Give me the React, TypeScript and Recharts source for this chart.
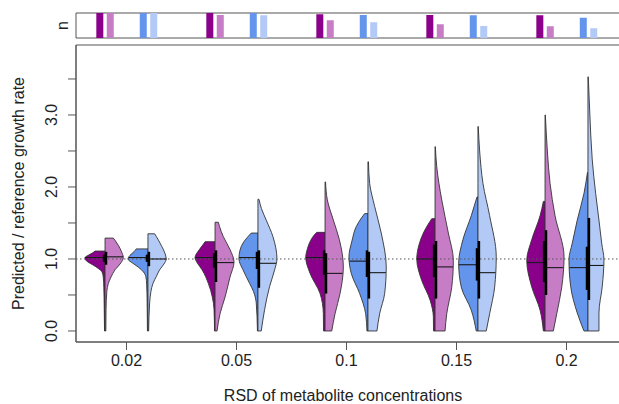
import React from 'react';
import {
  ComposedChart,
  BarChart,
  Bar,
  Cell,
  Area,
  XAxis,
  YAxis,
  ReferenceLine,
  ReferenceArea,
} from 'recharts';

// ---------- data ----------
const rsdLabels = ['0.02', '0.05', '0.1', '0.15', '0.2'];
const groupPositions = [1, 2, 3, 4, 5];

// counts shown in the top "n" panel (relative)
const nDarkPurple = [100, 100, 95, 92, 91];
const nLightPurple = [100, 92, 71, 55, 47];
const nBlue = [100, 100, 92, 91, 81];
const nLightBlue = [100, 91, 63, 48, 39];

// violin outlines: [value, density]
const darkPurpleOutlines = [
  [[0, 0.5], [0.3, 0.8], [0.6, 1.2], [0.75, 1.8], [0.82, 3], [0.86, 6], [0.9, 10], [0.94, 15], [0.98, 19], [1.02, 20], [1.05, 17], [1.08, 13], [1.11, 10]],
  [[0, 0.5], [0.3, 1], [0.47, 2.7], [0.66, 6.7], [0.85, 13], [0.95, 18], [1.02, 20], [1.13, 15.7], [1.2, 12], [1.24, 10]],
  [[0, 1.5], [0.24, 1.7], [0.52, 5], [0.8, 15], [1.02, 19.3], [1.15, 17.5], [1.26, 14.3], [1.33, 11], [1.37, 8.3]],
  [[0, 1.5], [0.2, 1.7], [0.43, 5], [0.7, 13.3], [1.0, 18.3], [1.2, 16], [1.36, 11.7], [1.48, 7], [1.56, 3.3]],
  [[0, 1.7], [0.29, 5], [0.61, 13.3], [0.98, 18.3], [1.27, 13.3], [1.6, 5], [1.8, 1.7]],
];
const lightPurpleOutlines = [
  [[0, 0.8], [0.3, 1], [0.55, 1.8], [0.66, 3.3], [0.75, 6], [0.85, 10], [0.93, 15], [1.02, 18.3], [1.1, 16.5], [1.19, 13.3], [1.25, 10.5], [1.29, 8.3]],
  [[0, 2], [0.24, 5], [0.47, 10], [0.75, 15], [0.96, 19], [1.13, 15], [1.31, 8.3], [1.45, 4.5], [1.51, 3.3]],
  [[0, 6.7], [0.24, 10], [0.52, 15], [0.89, 18.3], [1.27, 14.3], [1.54, 8.3], [1.82, 2.3], [2.07, 0.5]],
  [[0, 10], [0.24, 11.7], [0.61, 16.7], [0.98, 18.3], [1.36, 13.3], [1.82, 6.7], [2.28, 1.7], [2.56, 0.3]],
  [[0, 8.3], [0.24, 11.7], [0.61, 16.7], [1.03, 19], [1.6, 10], [2.05, 5], [2.5, 2.3], [3.0, 0.3]],
];
const blueOutlines = [
  [[0, 0.5], [0.4, 0.8], [0.65, 1.3], [0.75, 2], [0.82, 4.5], [0.88, 9], [0.94, 15], [1.0, 20], [1.05, 18], [1.1, 14], [1.14, 11.7]],
  [[0, 0.5], [0.39, 1.7], [0.55, 4.5], [0.66, 8.3], [0.85, 15], [1.0, 19], [1.12, 18], [1.22, 15], [1.31, 10], [1.36, 6.7]],
  [[0, 1], [0.24, 2.3], [0.52, 8.3], [0.8, 16.7], [1.03, 19], [1.25, 16], [1.45, 11.7], [1.57, 6.5], [1.63, 3.3]],
  [[0, 1.7], [0.29, 6.7], [0.61, 16.7], [0.94, 19.3], [1.27, 15], [1.6, 6.7], [1.86, 1]],
  [[0, 4], [0.25, 10.7], [0.62, 17.3], [0.99, 19], [1.22, 15.7], [1.54, 10.7], [1.91, 4], [2.2, 0.5]],
];
const lightBlueOutlines = [
  [[0, 0.7], [0.39, 1.7], [0.55, 3], [0.66, 5], [0.76, 8.5], [0.85, 11.7], [0.93, 16], [1.0, 18.3], [1.08, 17], [1.17, 14], [1.25, 11], [1.31, 8.5], [1.35, 6.7]],
  [[0, 3.3], [0.3, 6.7], [0.62, 11.7], [0.85, 16.7], [1.0, 19], [1.31, 15], [1.54, 8.3], [1.7, 3.5], [1.83, 1]],
  [[0, 9], [0.24, 11.7], [0.52, 16.7], [0.89, 18.3], [1.36, 13.3], [1.73, 6.7], [2.05, 1.7], [2.35, 0.5]],
  [[0, 8.3], [0.24, 11.7], [0.61, 16.7], [1.03, 18.3], [1.6, 11.7], [2.05, 5], [2.5, 1.7], [2.84, 0.3]],
  [[0, 11], [0.25, 11], [0.62, 14.3], [0.99, 16], [1.22, 13.7], [1.54, 11], [1.91, 7.7], [2.375, 4.3], [3.07, 1.7], [3.53, 0.3]],
];

const darkPurpleMedians = [1.02, 1.02, 1.02, 1.0, 0.95];
const lightPurpleMedians = [1.03, 0.95, 0.8, 0.89, 0.88];
const blueMedians = [1.02, 1.02, 0.97, 0.92, 0.88];
const lightBlueMedians = [1.0, 0.94, 0.81, 0.81, 0.91];

// [q1, q3]
const darkPurpleBoxes = [[0.96, 1.06], [0.88, 1.08], [0.78, 1.12], [0.75, 1.2], [0.68, 1.25]];
const lightPurpleBoxes = [[0.92, 1.1], [0.68, 1.12], [0.52, 1.08], [0.45, 1.25], [0.5, 1.4]];
const blueBoxes = [[0.96, 1.06], [0.86, 1.1], [0.75, 1.12], [0.7, 1.15], [0.57, 1.17]];
const lightBlueBoxes = [[0.9, 1.1], [0.6, 1.12], [0.45, 1.1], [0.45, 1.25], [0.43, 1.57]];

const yTicks = [0, 0.5, 1, 1.5, 2, 2.5, 3, 3.5];

// ---------- styles / layout ----------
const FONT = '"Liberation Sans", Arial, Helvetica, sans-serif';
const X_DOMAIN: [number, number] = [0.541, 5.759];
const Y_DOMAIN: [number, number] = [-0.153, 3.972];
const PAIR_OFFSET = 0.195;
const DENS = 1 / 110;
const BOX_OFF = 1.0 / 110;
const OUTLINE = '#333333';

const series = [
  { key: 'dp', color: '#8B008B', pair: -1, side: -1, outlines: darkPurpleOutlines, medians: darkPurpleMedians, boxes: darkPurpleBoxes, n: nDarkPurple, barOff: -0.245 },
  { key: 'lp', color: '#C67DC6', pair: -1, side: 1, outlines: lightPurpleOutlines, medians: lightPurpleMedians, boxes: lightPurpleBoxes, n: nLightPurple, barOff: -0.15 },
  { key: 'bl', color: '#6495ED', pair: 1, side: -1, outlines: blueOutlines, medians: blueMedians, boxes: blueBoxes, n: nBlue, barOff: 0.15 },
  { key: 'lb', color: '#B2CAF5', pair: 1, side: 1, outlines: lightBlueOutlines, medians: lightBlueMedians, boxes: lightBlueBoxes, n: nLightBlue, barOff: 0.245 },
];

const widthAt = (outline: number[][], v: number) => {
  for (let i = 0; i < outline.length - 1; i++) {
    const [v0, d0] = outline[i];
    const [v1, d1] = outline[i + 1];
    if (v >= v0 && v <= v1) return d0 + ((d1 - d0) * (v - v0)) / (v1 - v0);
  }
  return 0;
};

const nRows = groupPositions.flatMap((p, g) =>
  series.map((s) => ({ x: p + s.barOff, n: s.n[g], color: s.color }))
);

const YTick = (props: any) => {
  const { x, y, payload } = props;
  const v = payload.value;
  if (Math.abs(v - Math.round(v)) > 1e-6) return <g />;
  const tx = x - 9;
  return (
    <text x={tx} y={y} transform={`rotate(-90 ${tx} ${y})`} textAnchor="middle" fontSize={16} fill="#222" fontFamily={FONT}>
      {v.toFixed(1)}
    </text>
  );
};

const YTitle = (props: any) => {
  const vb = props.viewBox;
  const cx = 24;
  const cy = vb.y + vb.height / 2;
  return (
    <text x={cx} y={cy} transform={`rotate(-90 ${cx} ${cy})`} textAnchor="middle" fontSize={16} fill="#222" fontFamily={FONT}>
      Predicted / reference growth rate
    </text>
  );
};

const NTitle = (props: any) => {
  const vb = props.viewBox;
  const cx = 68;
  const cy = vb.y + vb.height / 2;
  return (
    <text x={cx} y={cy} transform={`rotate(-90 ${cx} ${cy})`} textAnchor="middle" fontSize={16} fill="#222" fontFamily={FONT}>
      n
    </text>
  );
};

const XTitle = () => (
  <text x={343} y={401} textAnchor="middle" fontSize={16} fill="#222" fontFamily={FONT}>
    RSD of metabolite concentrations
  </text>
);

export default function App() {
  const areas: any[] = [];
  const lines: any[] = [];
  series.forEach((s) => {
    groupPositions.forEach((p, g) => {
      const c = p + s.pair * PAIR_OFFSET;
      const outline = s.outlines[g];
      const data = outline.map(([v, d]) => ({
        y: v,
        r: s.side < 0 ? [c - d * DENS, c] : [c, c + d * DENS],
      }));
      areas.push(
        <Area
          key={`a-${s.key}-${g}`}
          data={data}
          dataKey="r"
          type="monotone"
          fill={s.color}
          fillOpacity={1}
          stroke={OUTLINE}
          strokeWidth={0.9}
          isAnimationActive={false}
          dot={false}
          activeDot={false}
        />
      );
      const first = outline[0];
      const last = outline[outline.length - 1];
      [first, last].forEach(([v, d], k) => {
        lines.push(
          <ReferenceLine
            key={`cap-${s.key}-${g}-${k}`}
            segment={[{ x: c, y: v }, { x: c + s.side * d * DENS, y: v }]}
            stroke={OUTLINE}
            strokeWidth={0.9}
          />
        );
      });
      const med = s.medians[g];
      lines.push(
        <ReferenceLine
          key={`med-${s.key}-${g}`}
          segment={[{ x: c, y: med }, { x: c + s.side * widthAt(outline, med) * DENS, y: med }]}
          stroke="#1a1a1a"
          strokeWidth={1.1}
        />
      );
      const [q1, q3] = s.boxes[g];
      lines.push(
        <ReferenceLine
          key={`box-${s.key}-${g}`}
          segment={[{ x: c + s.side * BOX_OFF, y: q1 }, { x: c + s.side * BOX_OFF, y: q3 }]}
          stroke="#000"
          strokeWidth={2.4}
        />
      );
    });
  });

  return (
    <div style={{ position: 'absolute', left: 0, top: 0, width: 619, height: 404, overflow: 'hidden', background: '#fff' }}>
      <div style={{ position: 'absolute', left: 0, top: 0 }}>
        <ComposedChart layout="vertical" width={660} height={404} margin={{ top: 45, right: 10, bottom: 0, left: 0 }}>
          <XAxis
            type="number"
            domain={X_DOMAIN}
            allowDataOverflow
            ticks={groupPositions}
            tickFormatter={(v: number) => rsdLabels[groupPositions.indexOf(v)] ?? ''}
            height={62}
            tickSize={8}
            tickMargin={5}
            stroke="#555"
            tick={{ fontSize: 16, fill: '#222', fontFamily: FONT }}
            label={{ content: XTitle }}
          />
          <YAxis
            type="number"
            dataKey="y"
            domain={Y_DOMAIN}
            allowDataOverflow
            reversed
            ticks={yTicks}
            width={76}
            tickSize={8}
            stroke="#555"
            tick={<YTick />}
            label={{ content: YTitle }}
          />
          <ReferenceLine y={1} stroke="#555" strokeDasharray="1.5 2.5" strokeWidth={1} />
          {areas}
          {lines}
          <ReferenceArea x1={X_DOMAIN[0]} x2={X_DOMAIN[1]} y1={Y_DOMAIN[0]} y2={Y_DOMAIN[1]} fill="none" stroke="#555" strokeWidth={1} />
        </ComposedChart>
      </div>
      <div style={{ position: 'absolute', left: 0, top: 0 }}>
        <BarChart width={660} height={40} data={nRows} margin={{ top: 13, right: 10, bottom: 2, left: 0 }}>
          <XAxis type="number" dataKey="x" domain={X_DOMAIN} allowDataOverflow hide />
          <YAxis type="number" domain={[0, 100]} width={76} tick={false} tickLine={false} axisLine={false} label={{ content: NTitle }} />
          <ReferenceArea x1={X_DOMAIN[0]} x2={X_DOMAIN[1]} y1={0} y2={100} fill="none" stroke="#555" strokeWidth={1} />
          <Bar dataKey="n" barSize={7} isAnimationActive={false}>
            {nRows.map((r, i) => (
              <Cell key={`c-${i}`} fill={r.color} />
            ))}
          </Bar>
        </BarChart>
      </div>
    </div>
  );
}
